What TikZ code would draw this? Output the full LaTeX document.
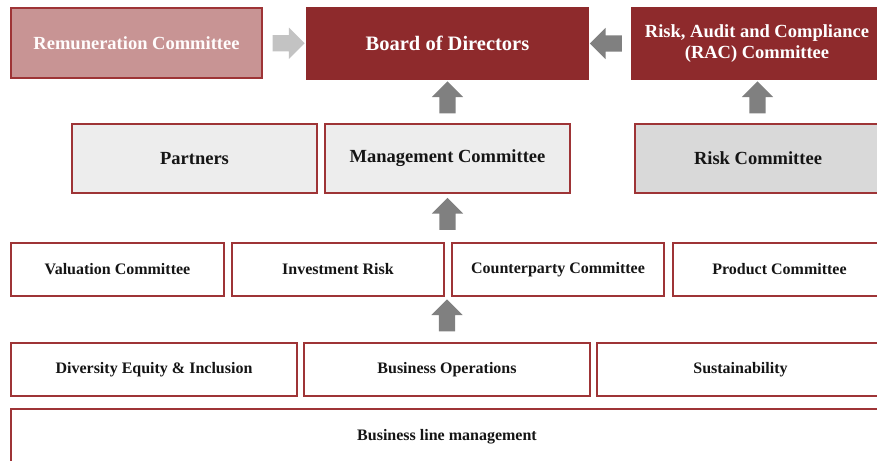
\documentclass[tikz,border=0pt]{standalone}
\usepackage{fontspec}
\setmainfont{Liberation Serif}
\usetikzlibrary{shapes.arrows,calc}
\definecolor{darkred}{HTML}{8E2A2C}
\definecolor{edgered}{HTML}{9E3436}
\definecolor{pinkfill}{HTML}{C89494}
\definecolor{lightgrayfill}{HTML}{EDEDED}
\definecolor{midgrayfill}{HTML}{D9D9D9}
\definecolor{arrowgray}{HTML}{808080}
\definecolor{arrowlight}{HTML}{C3C3C3}
\definecolor{textblack}{HTML}{151515}
\begin{document}
\begin{tikzpicture}[x=1pt,y=-1pt,
  box/.style={draw=edgered,line width=2pt,inner sep=0pt,align=center,font=\bfseries,text=textblack},
  topbox/.style={box,fill=darkred,draw=darkred,text=white,font=\fontsize{20.5}{21}\selectfont\bfseries},
  midbox/.style={box,minimum height=69pt,font=\fontsize{18.5}{21}\selectfont\bfseries},
  smallbox/.style={box,fill=white,minimum height=53pt,font=\fontsize{16}{18}\selectfont\bfseries},
  blockarrow/.style={single arrow,draw=none,fill=arrowgray,single arrow head extend=7.5pt,minimum height=32pt,inner sep=0pt,outer sep=0pt}
]
\newcommand{\shaftbox}{\rule{0pt}{16pt}}
\useasboundingbox (0,0) rectangle (877,460);
\clip (0,0) rectangle (877,460);
% Row 1
\node[box,fill=pinkfill,text=white!96!pink,minimum width=251pt,minimum height=70pt,font=\fontsize{18.5}{21}\selectfont\bfseries] (rem) at (136.5,43) {Remuneration Committee};
\node[topbox,minimum width=281pt,minimum height=71pt] (board) at (447.5,43.5) {Board of Directors};
\node[topbox,minimum width=250pt,minimum height=71pt,font=\fontsize{18.5}{21}\selectfont\bfseries] (rac) at (757,43.5) {Risk, Audit and Compliance\\(RAC) Committee};
% Row 2
\node[midbox,fill=lightgrayfill,minimum width=245pt] (partners) at (194.5,158.5) {Partners};
\node[midbox,fill=lightgrayfill,minimum width=245pt] (mgmt) at (447.5,158.5) {Management Committee};
\node[midbox,fill=midgrayfill,minimum width=246pt] (risk) at (758,158.5) {Risk Committee};
% Row 3
\node[smallbox,minimum width=213pt] (val) at (117.5,269.5) {Valuation Committee};
\node[smallbox,minimum width=212pt] (inv) at (338,269.5) {Investment Risk};
\node[smallbox,minimum width=212pt] (cpty) at (558,269.5) {Counterparty Committee};
\node[smallbox,minimum width=213pt] (prod) at (779.5,269.5) {Product Committee};
% Row 4
\node[smallbox,minimum width=286pt] (dei) at (154,369.5) {Diversity Equity \& Inclusion};
\node[smallbox,minimum width=286pt] (ops) at (447,369.5) {Business Operations};
\node[smallbox,minimum width=287pt] (sus) at (740.5,369.5) {Sustainability};
% Row 5
\node[smallbox,minimum width=872pt,minimum height=55pt] (blm) at (447,436.5) {Business line management};
% Block arrows
\node[blockarrow,fill=arrowlight] (a1) at ($(rem.east)!0.5!(board.west)$) {\shaftbox};
\node[blockarrow,rotate=180] (a2) at ($(board.east)!0.5!(rac.west)$) {\shaftbox};
\node[blockarrow,rotate=90] (a3) at ($(mgmt.north)!0.5!(board.south)$) {\shaftbox};
\node[blockarrow,rotate=90] (a4) at ($(risk.north)!0.5!(rac.south)$) {\shaftbox};
\node[blockarrow,rotate=90] (a5) at ($(mgmt.south)!0.5!(mgmt.south|-inv.north)$) {\shaftbox};
\node[blockarrow,rotate=90] (a6) at ($(ops.north)!0.5!(ops.north|-inv.south)$) {\shaftbox};
\end{tikzpicture}
\end{document}
